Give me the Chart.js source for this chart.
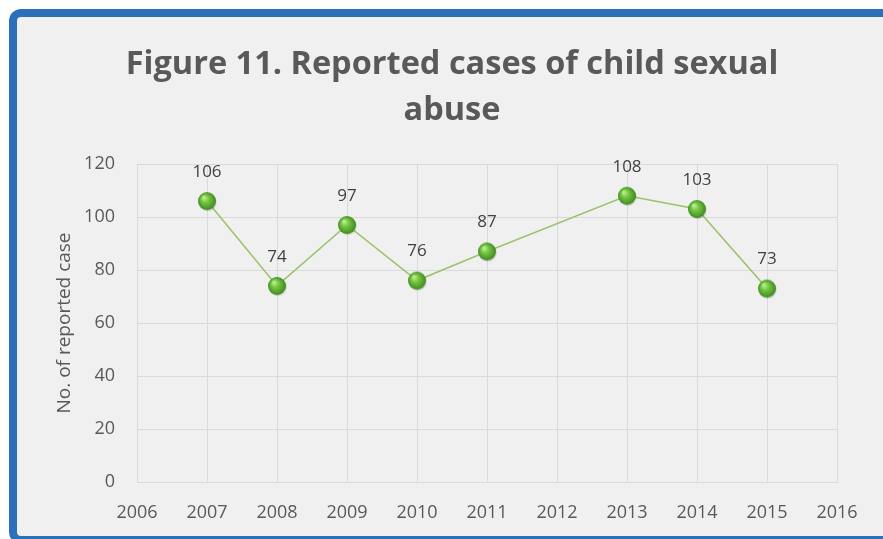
<!DOCTYPE html>
<html>
<head>
<meta charset="utf-8">
<script src="https://cdn.jsdelivr.net/npm/chart.js@4/dist/chart.umd.min.js"></script>
<style>
    html, body { margin: 0; padding: 0; background: #ffffff; overflow: hidden; }
    body { width: 883px; height: 539px; position: relative; }
    .frame {
        position: absolute;
        left: 9px;
        top: 9px;
        width: 900px;
        height: 519px;
        border: 8px solid #2a71ba;
        border-radius: 12px;
        background: #f0f0f0;
    }
    .wrap { position: absolute; left: 0; top: 0; width: 883px; height: 539px; }
</style>
</head>
<body>
<div class="frame"></div>
<div class="wrap"><canvas id="abuseChart" width="883" height="539"></canvas></div>
<script>
    // Reported cases per year (no figure published for 2012)
    const years = [2007, 2008, 2009, 2010, 2011, 2013, 2014, 2015];
    const cases = [106, 74, 97, 76, 87, 108, 103, 73];
    const xRange = [2006, 2016];
    const yRange = [0, 120];
    const yStep = 20;

    const titleLines = ['Figure 11. Reported cases of child sexual', 'abuse'];
    const yTitle = 'No. of reported case';

    const FONT = '"Open Sans", "Noto Sans", sans-serif';
    const GRID = '#dadada';

    // shaded green ball used as the marker
    function makeBall(r) {
        const size = r * 2 + 6;
        const c = document.createElement('canvas');
        c.width = size;
        c.height = size;
        const ctx = c.getContext('2d');
        const cx = size / 2, cy = size / 2;
        ctx.beginPath();
        ctx.arc(cx + 0.8, cy + 1.2, r, 0, Math.PI * 2);
        ctx.fillStyle = 'rgba(0, 0, 0, 0.12)';
        ctx.fill();
        const g = ctx.createRadialGradient(cx - r * 0.35, cy - r * 0.4, r * 0.1, cx, cy, r);
        g.addColorStop(0, '#b8ec8a');
        g.addColorStop(0.35, '#78c846');
        g.addColorStop(1, '#3f8a1f');
        ctx.beginPath();
        ctx.arc(cx, cy, r, 0, Math.PI * 2);
        ctx.fillStyle = g;
        ctx.fill();
        return c;
    }

    const valueLabels = {
        id: 'valueLabels',
        afterDatasetsDraw(chart) {
            const ctx = chart.ctx;
            const meta = chart.getDatasetMeta(0);
            ctx.save();
            ctx.font = '17px ' + FONT;
            ctx.fillStyle = '#404040';
            ctx.textAlign = 'center';
            ctx.textBaseline = 'middle';
            meta.data.forEach(function (pt, i) {
                ctx.fillText(String(cases[i]), pt.x, pt.y - 29);
            });
            ctx.restore();
        },
    };

    new Chart(document.getElementById('abuseChart'), {
        type: 'line',
        data: {
            datasets: [{
                label: 'Reported cases',
                data: years.map(function (y, i) { return { x: y, y: cases[i] }; }),
                borderColor: '#9cc26a',
                borderWidth: 1.6,
                pointStyle: makeBall(9),
                pointRadius: 9,
                pointHoverRadius: 9,
                tension: 0,
                fill: false,
            }],
        },
        options: {
            responsive: false,
            animation: false,
            events: [],
            layout: { padding: { left: 67, right: 46, top: 0, bottom: 0 } },
            plugins: {
                legend: { display: false },
                tooltip: { enabled: false },
                title: {
                    display: true,
                    text: titleLines,
                    color: '#595959',
                    font: { family: FONT, size: 32.5, weight: 'bold', lineHeight: 46 / 32.5 },
                    padding: { top: 42, bottom: 30 },
                },
            },
            scales: {
                x: {
                    type: 'linear',
                    min: xRange[0],
                    max: xRange[1],
                    grid: { color: GRID, drawTicks: false },
                    border: { color: GRID },
                    ticks: {
                        stepSize: 1,
                        padding: 20,
                        color: '#595959',
                        font: { family: FONT, size: 18 },
                        callback: function (v) { return String(v); },
                    },
                    afterFit: function (scale) { scale.height = 57; },
                },
                y: {
                    min: yRange[0],
                    max: yRange[1],
                    grid: { color: GRID, drawTicks: false },
                    border: { color: GRID },
                    ticks: {
                        stepSize: yStep,
                        padding: 22,
                        color: '#595959',
                        font: { family: FONT, size: 18 },
                    },
                    title: {
                        display: true,
                        text: yTitle,
                        color: '#595959',
                        font: { family: FONT, size: 19 },
                        padding: { top: -13.4, bottom: 0 },
                    },
                    afterFit: function (scale) { scale.width = 70; },
                },
            },
        },
        plugins: [valueLabels],
    });
</script>
</body>
</html>
